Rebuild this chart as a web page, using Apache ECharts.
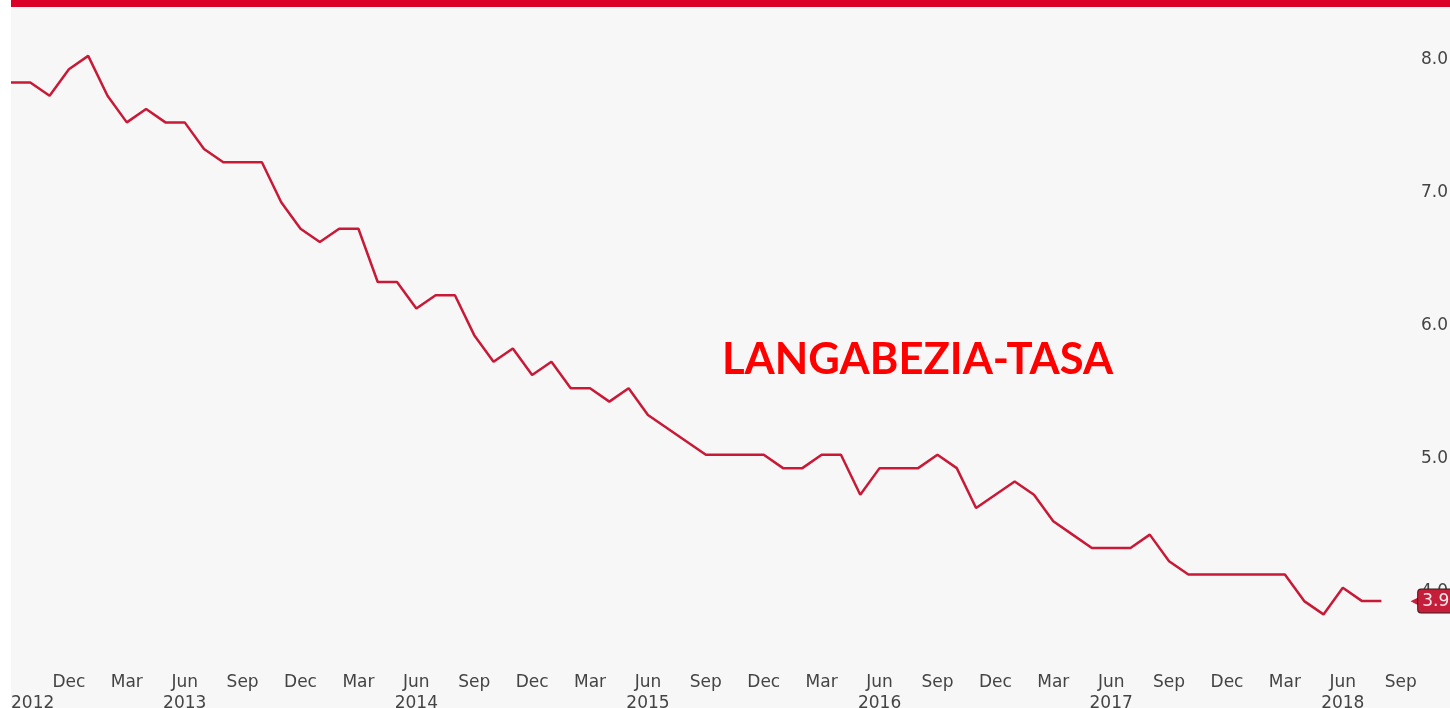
<!DOCTYPE html>
<html>
<head>
<meta charset="utf-8">
<script src="https://cdn.jsdelivr.net/npm/echarts@6/dist/echarts.min.js"></script>
<style>
  html, body { margin: 0; padding: 0; background: #fff; }
  #chart { width: 1450px; height: 708px; }
</style>
</head>
<body>
<div id="chart"></div>
<script>
// months, Sep 2012 .. Aug 2018, plus two empty slots on the right
const categories = [
  '2012-09', '2012-10', '2012-11', '2012-12',
  '2013-01', '2013-02', '2013-03', '2013-04', '2013-05', '2013-06', '2013-07', '2013-08', '2013-09', '2013-10', '2013-11', '2013-12',
  '2014-01', '2014-02', '2014-03', '2014-04', '2014-05', '2014-06', '2014-07', '2014-08', '2014-09', '2014-10', '2014-11', '2014-12',
  '2015-01', '2015-02', '2015-03', '2015-04', '2015-05', '2015-06', '2015-07', '2015-08', '2015-09', '2015-10', '2015-11', '2015-12',
  '2016-01', '2016-02', '2016-03', '2016-04', '2016-05', '2016-06', '2016-07', '2016-08', '2016-09', '2016-10', '2016-11', '2016-12',
  '2017-01', '2017-02', '2017-03', '2017-04', '2017-05', '2017-06', '2017-07', '2017-08', '2017-09', '2017-10', '2017-11', '2017-12',
  '2018-01', '2018-02', '2018-03', '2018-04', '2018-05', '2018-06', '2018-07', '2018-08', '2018-09', '2018-10'
]

const rates = [
  7.8, 7.8, 7.7, 7.9,
  8.0, 7.7, 7.5, 7.6, 7.5, 7.5, 7.3, 7.2, 7.2, 7.2, 6.9, 6.7,
  6.6, 6.7, 6.7, 6.3, 6.3, 6.1, 6.2, 6.2, 5.9, 5.7, 5.8, 5.6,
  5.7, 5.5, 5.5, 5.4, 5.5, 5.3, 5.2, 5.1, 5.0, 5.0, 5.0, 5.0,
  4.9, 4.9, 5.0, 5.0, 4.7, 4.9, 4.9, 4.9, 5.0, 4.9, 4.6, 4.7,
  4.8, 4.7, 4.5, 4.4, 4.3, 4.3, 4.3, 4.4, 4.2, 4.1, 4.1, 4.1,
  4.1, 4.1, 4.1, 3.9, 3.8, 4.0, 3.9, 3.9
]

const monthNames = ['Jan', 'Feb', 'Mar', 'Apr', 'May', 'Jun', 'Jul', 'Aug', 'Sep', 'Oct', 'Nov', 'Dec']

const monthOf = (val) => monthNames[+val.split('-')[1] - 1]

const chart = echarts.init(document.getElementById('chart'))

const hiddenAxis = {
  axisLine: { show: false },
  axisTick: { show: false },
  splitLine: { show: false }
}

chart.setOption({
  backgroundColor: '#f7f7f7',
  animation: false,
  textStyle: {
    fontFamily: 'DejaVu Sans'
  },
  title: {
    text: 'LANGABEZIA-TASA',
    left: 722,
    top: 338,
    padding: 0,
    textStyle: {
      color: '#ff0000',
      fontFamily: 'Lato',
      fontWeight: 'bold',
      fontSize: 43.5
    }
  },
  graphic: [
    {
      type: 'rect',
      shape: { x: 0, y: 0, width: 11, height: 708 },
      style: { fill: '#ffffff' },
      z: 100
    },
    {
      type: 'rect',
      shape: { x: 11, y: 0, width: 1439, height: 7 },
      style: { fill: '#dc0028' },
      z: 100
    }
  ],
  grid: {
    left: 11,
    right: 30,
    top: 16,
    bottom: 67,
    outerBoundsMode: 'none'
  },
  xAxis: [
    {
      // month row
      type: 'category',
      data: categories,
      boundaryGap: false,
      position: 'bottom',
      ...hiddenAxis,
      axisLabel: {
        interval: (idx) => idx > 0 && idx % 3 === 0,
        margin: 33,
        fontSize: 17,
        lineHeight: 17,
        color: '#444',
        formatter: (val) => monthOf(val)
      }
    },
    {
      // year row
      type: 'category',
      data: categories,
      boundaryGap: false,
      position: 'bottom',
      ...hiddenAxis,
      axisLabel: {
        interval: (idx) => idx === 0 || monthOf(categories[idx]) === 'Jun',
        showMinLabel: true,
        alignMinLabel: 'left',
        margin: 54,
        fontSize: 17,
        lineHeight: 17,
        color: '#444',
        formatter: (val) => val.split('-')[0]
      }
    }
  ],
  yAxis: {
    type: 'value',
    position: 'right',
    min: 3.6,
    max: 8.3,
    splitNumber: 4,
    ...hiddenAxis,
    axisLabel: {
      margin: 1,
      color: '#444',
      formatter: (v) => Number.isInteger(Math.round(v * 1000) / 1000) ? '{v|' + v.toFixed(1) + '}' : '',
      rich: {
        v: {
          fontSize: 17,
          color: '#444',
          padding: [8, 0, 0, 0]
        }
      }
    }
  },
  series: [
    {
      type: 'line',
      data: rates,
      symbol: 'none',
      lineStyle: {
        color: '#c81937',
        width: 2.5
      },
      endLabel: {
        show: true,
        distance: 29,
        formatter: (p) => '{a|◀}{b|' + p.value.toFixed(1) + '}',
        rich: {
          a: {
            color: '#c41e3a',
            fontSize: 14,
            padding: [0, -3, 0, 0]
          },
          b: {
            color: '#ffe8ec',
            fontSize: 17,
            backgroundColor: '#c41e3a',
            borderColor: '#3a1a1a',
            borderWidth: 1,
            borderRadius: 3,
            padding: [3, 4, 3, 4]
          }
        }
      }
    }
  ]
})
</script>
</body>
</html>
